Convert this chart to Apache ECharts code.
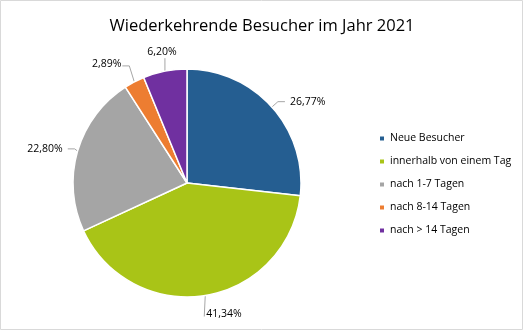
<!DOCTYPE html>
<html><head><meta charset="utf-8">
<script src="https://cdn.jsdelivr.net/npm/echarts@6/dist/echarts.min.js"></script>
<style>html,body{margin:0;padding:0;background:#fff}#c{width:524px;height:331px}</style>
</head><body><div id="c"></div>
<script>
const categories = ['Neue Besucher','innerhalb von einem Tag','nach 1-7 Tagen','nach 8-14 Tagen','nach > 14 Tagen'];
const values = [26.77, 41.34, 22.80, 2.89, 6.20];
const labels = ['26,77%','41,34%','22,80%','2,89%','6,20%'];
const colors = ['#255E91','#A9C417','#A5A5A5','#ED7D31','#7030A0'];
const chart = echarts.init(document.getElementById('c'), null, {renderer:'canvas'});
const font = 'Open Sans, Liberation Sans, sans-serif';
chart.setOption({
  animation:false,
  color: colors,
  graphic:[{type:'rect',shape:{x:0.5,y:0.5,width:522,height:329},style:{fill:'none',stroke:'#D9D9D9',lineWidth:1}}],
  title:{text:'Wiederkehrende Besucher im Jahr 2021',left:'center',top:13,
    textStyle:{fontFamily:font,fontSize:16.5,fontWeight:'normal',color:'#000'}},
  legend:{orient:'vertical',left:373,top:128,itemWidth:6,itemHeight:6,itemGap:12,icon:'rect',
    textStyle:{fontFamily:font,fontSize:10.5,color:'#000'},data:categories},
  series:[{type:'pie',center:[187,183],radius:114,startAngle:90,clockwise:true,
    itemStyle:{borderColor:'#fff',borderWidth:1.5},
    label:{show:true,position:'outside',fontFamily:font,fontSize:10.5,color:'#000',
      formatter:p=>labels[p.dataIndex]},
    labelLine:{show:true,length:8,length2:7,lineStyle:{color:'#A6A6A6',width:1}},
    labelLayout:function(p){
      const pts = p.labelLinePoints;
      if(!pts) return {};
      const p0 = pts[0];
      if(p.dataIndex===4){
        return {x:p0[0]-3,y:p0[1]-14,align:'center',verticalAlign:'bottom',
          labelLinePoints:[p0,[p0[0],p0[1]-13],[p0[0],p0[1]-13]]};
      }
      if(p.dataIndex===1){
        return {x:p0[0]+1,y:p0[1]+18,align:'left',verticalAlign:'middle',
          labelLinePoints:[p0,[p0[0]-1,p0[1]+21],[p0[0]-1,p0[1]+21]]};
      }
      if(p.dataIndex===3){
        return {x:p0[0]-13,y:p0[1]-18,align:'right',verticalAlign:'middle',
          labelLinePoints:[p0,[p0[0]-5,p0[1]-16],[p0[0]-12,p0[1]-16]]};
      }
      return {};
    },
    data:categories.map((c,i)=>({name:c,value:values[i]}))}]
});
</script></body></html>
